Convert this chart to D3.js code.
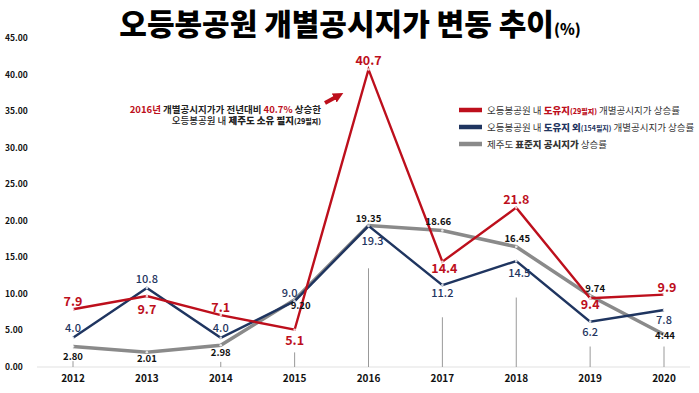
<!DOCTYPE html>
<html>
<head>
<meta charset="utf-8">
<script src="https://cdn.jsdelivr.net/npm/d3@7"></script>
<style>
  body { margin: 0; background: #fff; }
  text { font-family: "Noto Sans CJK KR", "Noto Sans", sans-serif; }
</style>
</head>
<body>
<div id="chart"></div>
<script>
const years = [2012, 2013, 2014, 2015, 2016, 2017, 2018, 2019, 2020];
const redVals = [7.9, 9.7, 7.1, 5.1, 40.7, 14.4, 21.8, 9.4, 9.9];
const blueVals = [4.0, 10.8, 4.0, 9.0, 19.3, 11.2, 14.5, 6.2, 7.8];
const grayVals = [2.80, 2.01, 2.98, 9.20, 19.35, 18.66, 16.45, 9.74, 4.44];
const grayText = ["2.80", "2.01", "2.98", "9.20", "19.35", "18.66", "16.45", "9.74", "4:44"];
const yTicks = [0, 5, 10, 15, 20, 25, 30, 35, 40, 45];
// tops of the thin guide lines under the labels (value units), null = none
const guideTop = [0.8, null, 0.7, 2.0, 13.5, 6.8, 9.5, 2.8, 2.8];

let width = 699, height = 393;

const x = d3.scalePoint().domain(years).range([73, 664]);
const y = d3.scaleLinear().domain([0, 45]).range([367, 38]);

const svg = d3.select("#chart").append("svg")
    .attr("width", width)
    .attr("height", height);

// title
const title = svg.append("text")
    .attr("x", 350).attr("y", 35)
    .attr("text-anchor", "middle")
    .attr("font-weight", 900)
    .attr("font-size", "30px")
    .attr("fill", "#000");
title.append("tspan").text("오등봉공원 개별공시지가 변동 추이");
title.append("tspan").attr("font-size", "15px").text("(%)");

// y labels
svg.selectAll(".ylab").data(yTicks).enter().append("text")
    .attr("class", "ylab")
    .attr("x", 5).attr("y", d => y(d) + 3)
    .attr("font-size", "8.5px").attr("font-weight", 700)
    .attr("fill", "#111")
    .text(d => d3.format(".2f")(d));

// baseline
svg.append("line")
    .attr("x1", 37).attr("x2", 690)
    .attr("y1", y(0)).attr("y2", y(0))
    .attr("stroke", "#e2e2e2").attr("stroke-width", 1.2);

// x labels
svg.selectAll(".xlab").data(years).enter().append("text")
    .attr("class", "xlab")
    .attr("x", d => x(d)).attr("y", 382)
    .attr("text-anchor", "middle")
    .attr("font-size", "10px").attr("font-weight", 700)
    .attr("fill", "#111")
    .text(d => d);

// guide lines
svg.selectAll(".guide").data(years.filter((d, i) => guideTop[i] !== null)).enter().append("line")
    .attr("class", "guide")
    .attr("x1", d => x(d)).attr("x2", d => x(d))
    .attr("y1", d => y(guideTop[years.indexOf(d)]))
    .attr("y2", y(0))
    .attr("stroke", "#999").attr("stroke-width", 1);

const line = d3.line().x((d, i) => x(years[i])).y(d => y(d));

const series = [
    {vals: grayVals, color: "#8a8a8a", w: 3.5},
    {vals: blueVals, color: "#1f3560", w: 2.4},
    {vals: redVals, color: "#bd0f1c", w: 2.4}
];

series.forEach(s => {
    svg.append("path")
        .datum(s.vals)
        .attr("d", line)
        .attr("fill", "none")
        .attr("stroke", s.color)
        .attr("stroke-width", s.w)
        .attr("stroke-linejoin", "miter");
    svg.selectAll(null).data(s.vals).enter().append("circle")
        .attr("cx", (d, i) => x(years[i]))
        .attr("cy", d => y(d))
        .attr("r", 1.3)
        .attr("fill", "#fff")
        .attr("opacity", 0.8);
});

// label offsets [dx, dy] from the point to the text baseline
const redOff = [[0,-3],[0,18],[0,-3],[0,15.5],[0,-4],[2,11],[0,-4],[0,11],[3,-3]];
const blueOff = [[0,-6],[0,-5],[0,-6],[-5,-4],[4,19],[0,12],[3,16],[0,14],[0,14]];
const grayOff = [[0,13],[0,10],[0,11],[6,9],[0,-4],[-4,-6],[1,-5],[5,-4],[1,4]];

svg.selectAll(".glab").data(grayVals).enter().append("text")
    .attr("class", "glab")
    .attr("x", (d, i) => x(years[i]) + grayOff[i][0])
    .attr("y", (d, i) => y(d) + grayOff[i][1])
    .attr("text-anchor", "middle")
    .attr("font-size", "9.5px").attr("font-weight", 700)
    .attr("fill", "#111")
    .text((d, i) => grayText[i]);

svg.selectAll(".blab").data(blueVals).enter().append("text")
    .attr("class", "blab")
    .attr("x", (d, i) => x(years[i]) + blueOff[i][0])
    .attr("y", (d, i) => y(d) + blueOff[i][1])
    .attr("text-anchor", "middle")
    .attr("font-size", "11px").attr("font-weight", 500)
    .attr("fill", "#1f3560")
    .text(d => d.toFixed(1));

svg.selectAll(".rlab").data(redVals).enter().append("text")
    .attr("class", "rlab")
    .attr("x", (d, i) => x(years[i]) + redOff[i][0])
    .attr("y", (d, i) => y(d) + redOff[i][1])
    .attr("text-anchor", "middle")
    .attr("font-size", "12.5px").attr("font-weight", 700)
    .attr("fill", "#bd0f1c")
    .text(d => d.toFixed(1));

// annotation
const ann1 = svg.append("text")
    .attr("x", 321).attr("y", 113)
    .attr("text-anchor", "end")
    .attr("font-size", "9.5px").attr("font-weight", 700)
    .attr("fill", "#222");
ann1.append("tspan").attr("fill", "#bd0f1c").text("2016년");
ann1.append("tspan").text(" 개별공시지가가 전년대비 ");
ann1.append("tspan").attr("fill", "#bd0f1c").text("40.7%");
ann1.append("tspan").text(" 상승한");

const ann2 = svg.append("text")
    .attr("x", 321).attr("y", 123.5)
    .attr("text-anchor", "end")
    .attr("font-size", "9.5px").attr("font-weight", 500)
    .attr("fill", "#222");
ann2.append("tspan").text("오등봉공원 내 ");
ann2.append("tspan").attr("font-weight", 900).text("제주도 소유 필지");
ann2.append("tspan").attr("font-weight", 900).attr("font-size", "7px").text("(29필지)");

// arrow
svg.append("defs").append("marker")
    .attr("id", "head")
    .attr("viewBox", "0 0 10 10")
    .attr("refX", 2).attr("refY", 5)
    .attr("markerWidth", 2.6).attr("markerHeight", 2.6)
    .attr("orient", "auto")
    .append("path")
    .attr("d", "M0,0 L10,5 L0,10 Z")
    .attr("fill", "#bd0f1c");
svg.append("line")
    .attr("x1", 325).attr("y1", 103)
    .attr("x2", 336).attr("y2", 97)
    .attr("stroke", "#bd0f1c").attr("stroke-width", 4)
    .attr("marker-end", "url(#head)");

// legend
const legend = [
    {color: "#bd0f1c", parts: [["오등봉공원 내 ", 400, "#333", 9.5], ["도유지", 900, "#bd0f1c", 9.5], ["(29필지)", 900, "#bd0f1c", 7], [" 개별공시지가 상승률", 400, "#333", 9.5]]},
    {color: "#1f3560", parts: [["오등봉공원 내 ", 400, "#333", 9.5], ["도유지 외", 900, "#1f3560", 9.5], ["(154필지)", 700, "#1f3560", 7], [" 개별공시지가 상승률", 400, "#333", 9.5]]},
    {color: "#8a8a8a", parts: [["제주도 ", 400, "#333", 9.5], ["표준지 공시지가", 900, "#333", 9.5], [" 상승률", 400, "#333", 9.5]]}
];

const lg = svg.selectAll(".leg").data(legend).enter().append("g")
    .attr("class", "leg")
    .attr("transform", (d, i) => "translate(459," + (110 + i * 17) + ")");
lg.append("line")
    .attr("x1", 0).attr("x2", 23)
    .attr("stroke", d => d.color).attr("stroke-width", 4.5);
lg.append("text")
    .attr("x", 28).attr("y", 3.5)
    .each(function(d) {
        const t = d3.select(this);
        d.parts.forEach(p => {
            t.append("tspan").text(p[0])
                .attr("font-weight", p[1])
                .attr("fill", p[2])
                .attr("font-size", p[3] + "px");
        });
    });
</script>
</body>
</html>
